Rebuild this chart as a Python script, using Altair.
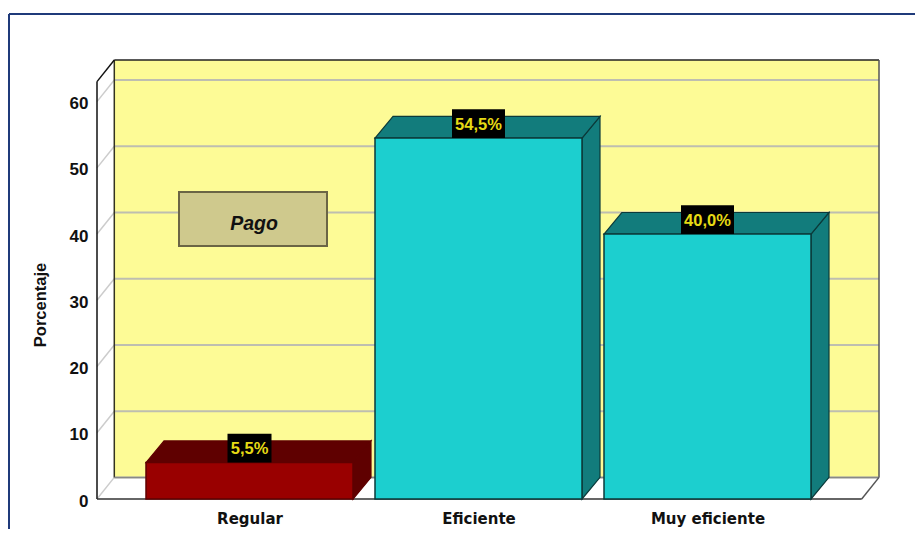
import altair as alt
import pandas as pd

categories = ["Regular", "Eficiente", "Muy eficiente"]
values = [5.5, 54.5, 40.0]
labels = ["5,5%", "54,5%", "40,0%"]
front_colors = ["#990000", "#1CCFCF", "#1CCFCF"]
side_colors = ["#5F0000", "#127C7C", "#127C7C"]
edge_colors = ["#5F0000", "#0B3A3A", "#0B3A3A"]
y_ticks = [0, 10, 20, 30, 40, 50, 60]

PX_X = 229.0   # pixels per category step
PX_Y = 6.623   # pixels per percent
W, H = 782, 439
X_MAX, Y_MAX = W / PX_X, H / PX_Y
OFFSET = 152.5 / PX_X
HALF = 103.5 / PX_X
DX_WALL, DY = 17.3 / PX_X, 21.6 / PX_Y
DX_BAR = 18.0 / PX_X
Y_TOP_FRONT = Y_MAX - DY
FRONT_RIGHT = X_MAX - DX_WALL
CENTERS = [OFFSET + i for i in range(len(categories))]

FONT = "Liberation Sans"

xs = alt.Scale(domain=[0, X_MAX], nice=False, zero=False)
ys = alt.Scale(domain=[0, Y_MAX], nice=False, zero=False)

axis_y = alt.Axis(
    values=y_ticks, grid=False, domain=False, ticks=False,
    labelFont=FONT, labelFontWeight="bold", labelFontSize=17,
    labelColor="#111111", labelPadding=9, labelOffset=2,
    title="Porcentaje", titleFont=FONT, titleFontWeight="bold",
    titleFontSize=16.5, titleColor="#111111", titleX=-57, titleY=244.5,
    titleAlign="center", titleBaseline="middle",
)
axis_x = alt.Axis(
    values=CENTERS, grid=False, domain=False, ticks=False, title=None,
    labelExpr="['" + "','".join(categories) + "'][round(datum.value - %.5f)]" % OFFSET,
    labelFont="DejaVu Sans", labelFontWeight="bold", labelFontSize=15,
    labelColor="#111111", labelPadding=12, labelAngle=0, labelFlush=False,
    labelOverlap=False,
)

X = lambda f: alt.X(f, type="quantitative", scale=xs, axis=axis_x)
Y = lambda f: alt.Y(f, type="quantitative", scale=ys, axis=axis_y)
X2 = lambda f: alt.X2(f)
Y2 = lambda f: alt.Y2(f)

bars = pd.DataFrame({
    "name": categories,
    "v": values,
    "label": labels,
    "front": front_colors,
    "side": side_colors,
    "edge": edge_colors,
    "c": CENTERS,
})
bars["l"] = bars["c"] - HALF
bars["r"] = bars["c"] + HALF
bars["zero"] = 0.0
half_box = bars["label"].str.len().map({4: 22.0, 5: 26.5}) / PX_X
bars["tx1"] = bars["c"] - half_box
bars["tx2"] = bars["c"] + half_box
bars["ty2"] = bars["v"] + 28.8 / PX_Y
bars["tym"] = bars["v"] + 13.5 / PX_Y

top_rows, side_rows = [], []
for b in bars.to_dict("records"):
    top_rows.append(dict(name=b["name"], y=b["v"], x=b["l"], x2=b["r"], color=b["side"], edge=b["edge"]))
    top_rows.append(dict(name=b["name"], y=b["v"] + DY, x=b["l"] + DX_BAR, x2=b["r"] + DX_BAR, color=b["side"], edge=b["edge"]))
    side_rows.append(dict(name=b["name"], x=b["r"], y=0.0, y2=b["v"], color=b["side"], edge=b["edge"]))
    side_rows.append(dict(name=b["name"], x=b["r"] + DX_BAR, y=DY, y2=b["v"] + DY, color=b["side"], edge=b["edge"]))
tops = pd.DataFrame(top_rows)
sides = pd.DataFrame(side_rows)

grid = pd.DataFrame({"v": y_ticks})
grid["yb"] = grid["v"] + DY
grid["x0"] = 0.0
grid["x1"] = DX_WALL
grid["xe"] = X_MAX

wall = pd.DataFrame([{"x": DX_WALL, "x2": X_MAX, "y": DY, "y2": Y_MAX}])


def seg(x, x2, y, y2, color, width):
    d = pd.DataFrame([{"x": x, "x2": x2, "y": y, "y2": y2}])
    return alt.Chart(d).mark_rule(color=color, strokeWidth=width).encode(
        X("x"), X2("x2"), Y("y"), Y2("y2")
    )


one = pd.DataFrame([{"a": 1}])
layers = [
    # frame
    alt.Chart(one).mark_rule(color="#1F3A7A", strokeWidth=2).encode(
        x=alt.value(-88), x2=alt.value(818), y=alt.value(-46)
    ),
    alt.Chart(one).mark_rule(color="#1F3A7A", strokeWidth=2).encode(
        x=alt.value(-88), y=alt.value(-46), y2=alt.value(470)
    ),
    # back wall
    alt.Chart(wall).mark_rect(color="#FDFB96").encode(X("x"), X2("x2"), Y("y"), Y2("y2")),
    # grid on wall and side
    alt.Chart(grid).mark_rule(color="#BEBEB0", strokeWidth=2).encode(
        X("x1"), X2("xe"), Y("yb")
    ),
    alt.Chart(grid).mark_rule(color="#CCCCCC", strokeWidth=1.5).encode(
        X("x0"), X2("x1"), Y("v"), Y2("yb")
    ),
    # wall edges
    seg(DX_WALL, DX_WALL, DY, Y_MAX, "#333320", 1.5),
    seg(DX_WALL, X_MAX, Y_MAX, Y_MAX, "#222222", 1.5),
    seg(X_MAX, X_MAX, DY, Y_MAX, "#555555", 1.5),
    seg(DX_WALL, X_MAX, DY, DY, "#888888", 1.5),
    seg(X_MAX, FRONT_RIGHT, DY, 0, "#555555", 1.5),
    seg(0, DX_WALL, Y_TOP_FRONT, Y_MAX, "#111111", 1.5),
    seg(0, 0, 0, Y_TOP_FRONT, "#111111", 1.5),
    seg(0, FRONT_RIGHT, 0, 0, "#333333", 1.5),
    # legend box
    alt.Chart(one).mark_rect(
        color="#CFC98D", stroke="#6B6545", strokeWidth=2
    ).encode(x=alt.value(82), x2=alt.value(230), y=alt.value(132), y2=alt.value(186)),
    alt.Chart(pd.DataFrame([{"t": "Pago"}])).mark_text(
        font=FONT, fontWeight="bold", fontStyle="italic", fontSize=19.5,
        color="#111111", align="center", baseline="middle",
    ).encode(x=alt.value(157), y=alt.value(164), text="t:N"),
    # bars
    alt.Chart(sides).mark_area(orient="vertical", strokeWidth=1.2).encode(
        X("x"), Y("y"), Y2("y2"),
        fill=alt.Color("color:N", scale=None),
        stroke=alt.Color("edge:N", scale=None),
        detail="name:N",
    ),
    alt.Chart(tops).mark_area(orient="horizontal", strokeWidth=1.2).encode(
        Y("y"), X("x"), X2("x2"),
        fill=alt.Color("color:N", scale=None),
        stroke=alt.Color("edge:N", scale=None),
        detail="name:N",
    ),
    alt.Chart(bars).mark_rect(strokeWidth=1.5).encode(
        X("l"), X2("r"), Y("zero"), Y2("v"),
        fill=alt.Color("front:N", scale=None),
        stroke=alt.Color("edge:N", scale=None),
    ),
    # value labels
    alt.Chart(bars).mark_rect(color="#000000").encode(
        X("tx1"), X2("tx2"), Y("v"), Y2("ty2")
    ),
    alt.Chart(bars).mark_text(
        font=FONT, fontWeight="bold", fontSize=16.5, color="#E6DA14",
        align="center", baseline="middle",
    ).encode(X("c"), Y("tym"), text="label:N"),
]

chart = alt.layer(*layers).properties(
    width=W, height=H,
    autosize=alt.AutoSizeParams(type="none"),
    padding={"left": 89, "top": 52, "right": 36, "bottom": 30},
    background="#FFFFFF",
).configure_view(stroke=None)

chart.save("out.html", embed_options={"renderer": "svg", "actions": False})
